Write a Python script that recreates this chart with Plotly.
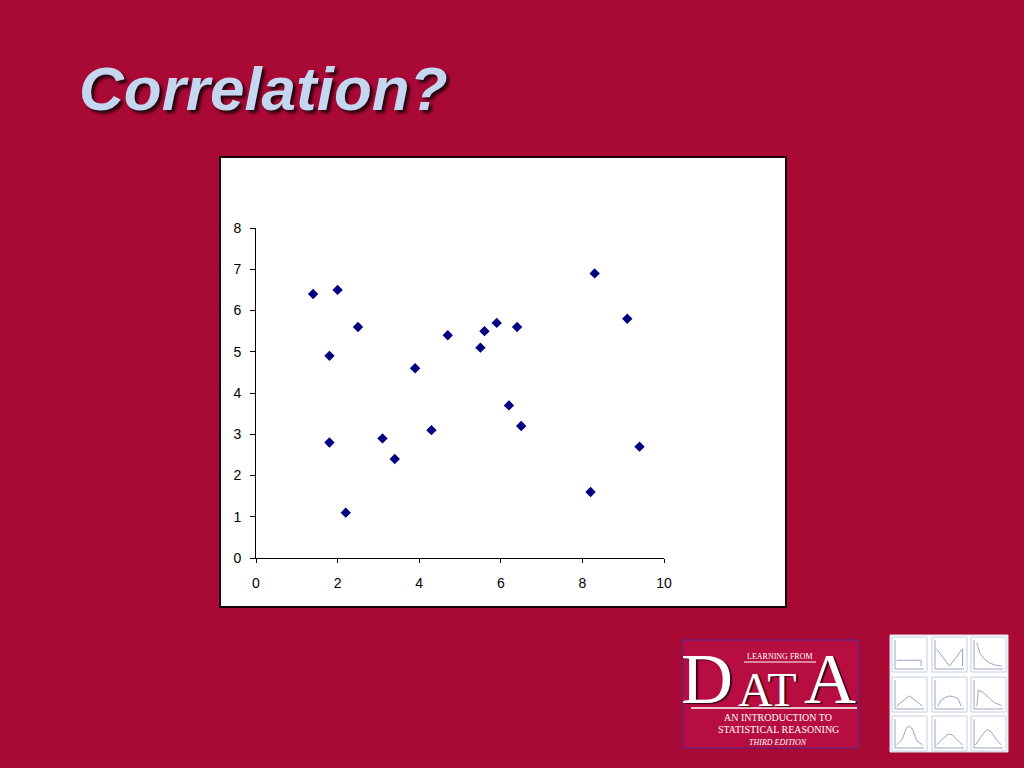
import plotly.graph_objects as go

# ---- data ----
x_vals = [1.4, 2.0, 1.8, 1.8, 2.2, 2.5, 3.1, 3.4, 3.9, 4.3, 4.7,
          5.5, 5.6, 5.9, 6.4, 6.2, 6.5, 8.2, 8.3, 9.1, 9.4]
y_vals = [6.4, 6.5, 4.9, 2.8, 1.1, 5.6, 2.9, 2.4, 4.6, 3.1, 5.4,
          5.1, 5.5, 5.7, 5.6, 3.7, 3.2, 1.6, 6.9, 5.8, 2.7]
x_ticks = [0, 2, 4, 6, 8, 10]
y_ticks = [0, 1, 2, 3, 4, 5, 6, 7, 8]
title_text = "Correlation?"

W, H = 1024, 768
BG = "#A90935"


def px(x):
    return x / W


def py(y):
    return (H - y) / H


fig = go.Figure()
fig.add_trace(go.Scatter(
    x=x_vals, y=y_vals, mode="markers",
    marker=dict(symbol="diamond", size=8, color="#000080",
                line=dict(width=0)),
    hoverinfo="x+y", showlegend=False))

shapes = []
annotations = []

# white chart box
shapes.append(dict(type="rect", xref="paper", yref="paper",
                   x0=px(220), x1=px(786), y0=py(607), y1=py(157),
                   fillcolor="white", line=dict(color="#1a0008", width=2),
                   layer="below"))

# title with shadow
annotations.append(dict(text="<b><i>%s</i></b>" % title_text,
                        xref="paper", yref="paper",
                        x=px(77), y=py(89),
                        xanchor="left", yanchor="middle", showarrow=False,
                        font=dict(family="Liberation Sans, Arial", size=62,
                                  color="#C4D6F0",
                                  shadow="3px 3px 3px #2a0410")))

# ---- "Learning from Data" logo ----
shapes.append(dict(type="rect", xref="paper", yref="paper",
                   x0=px(683), x1=px(859), y0=py(748), y1=py(640),
                   fillcolor="#B80D40", line=dict(color="#4a2a90", width=1)))
shapes.append(dict(type="line", xref="paper", yref="paper",
                   x0=px(691), x1=px(857), y0=py(708), y1=py(708),
                   line=dict(color="white", width=1.5)))
shapes.append(dict(type="line", xref="paper", yref="paper",
                   x0=px(744), x1=px(816), y0=py(662), y1=py(662),
                   line=dict(color="white", width=1)))
serif = "Liberation Serif, Times New Roman, serif"
logo_texts = [
    ("LEARNING FROM", 780, 656, 8, False),
    ("AN INTRODUCTION TO", 778, 717, 10, False),
    ("STATISTICAL REASONING", 778, 729, 10, False),
    ("THIRD EDITION", 778, 742, 8, True),
]
for t, xx, yy, sz, it in logo_texts:
    annotations.append(dict(text=("<i>%s</i>" % t) if it else t,
                            xref="paper", yref="paper", x=px(xx), y=py(yy),
                            xanchor="center", yanchor="middle", showarrow=False,
                            font=dict(family=serif, size=sz, color="white")))
big_letters = [("D", 707, 721, 72), ("AT", 767, 718, 48), ("A", 830, 721, 72)]
for t, xx, yy, sz in big_letters:
    annotations.append(dict(text=t, xref="paper", yref="paper",
                            x=px(xx), y=py(yy),
                            xanchor="center", yanchor="bottom", showarrow=False,
                            font=dict(family=serif, size=sz, color="white",
                                      shadow="2px 1px 1px #3a0818")))

# ---- distribution-grid logo ----
shapes.append(dict(type="rect", xref="paper", yref="paper",
                   x0=px(890), x1=px(1008), y0=py(752), y1=py(635),
                   fillcolor="white", line=dict(color="#dde3ee", width=1)))
cols = [(892, 927), (932, 967), (971, 1006)]
rows = [(637, 672), (677, 712), (716, 751)]
curves = [
    [(0.05, 0.7), (0.9, 0.7), (0.9, 0.9)],
    [(0.05, 0.3), (0.5, 0.9), (0.95, 0.3), (0.95, 0.9)],
    [(0.1, 0.1), (0.2, 0.45), (0.35, 0.65), (0.55, 0.8), (0.75, 0.87), (0.95, 0.9)],
    [(0.05, 0.9), (0.5, 0.55), (0.95, 0.9)],
    [(0.1, 0.9), (0.2, 0.7), (0.35, 0.6), (0.5, 0.55), (0.65, 0.58), (0.8, 0.65), (0.9, 0.9)],
    [(0.1, 0.9), (0.15, 0.35), (0.3, 0.42), (0.5, 0.6), (0.7, 0.78), (0.95, 0.88)],
    [(0.05, 0.9), (0.25, 0.7), (0.4, 0.3), (0.5, 0.25), (0.6, 0.35), (0.75, 0.75), (0.95, 0.9)],
    [(0.05, 0.9), (0.25, 0.7), (0.45, 0.52), (0.6, 0.55), (0.8, 0.75), (0.95, 0.9)],
    [(0.05, 0.9), (0.25, 0.6), (0.45, 0.35), (0.6, 0.45), (0.8, 0.75), (0.95, 0.9)],
]
k = 0
for (r0, r1) in rows:
    for (c0, c1) in cols:
        shapes.append(dict(type="rect", xref="paper", yref="paper",
                           x0=px(c0), x1=px(c1), y0=py(r1), y1=py(r0),
                           line=dict(color="#c6cede", width=1)))
        ax = "M %f,%f L %f,%f L %f,%f" % (px(c0 + 3), py(r0 + 3), px(c0 + 3), py(r1 - 3),
                                           px(c1 - 3), py(r1 - 3))
        shapes.append(dict(type="path", xref="paper", yref="paper", path=ax,
                           line=dict(color="#9aa6c4", width=1)))
        pts = curves[k]
        path = " ".join(("M" if i == 0 else "L") + " %f,%f" % (
            px(c0 + 3 + u * (c1 - c0 - 6)), py(r0 + 3 + v * (r1 - r0 - 6)))
            for i, (u, v) in enumerate(pts))
        shapes.append(dict(type="path", xref="paper", yref="paper", path=path,
                           line=dict(color="#9aa6c4", width=1)))
        k += 1

tickfont = dict(family="Liberation Sans, Arial", size=14, color="black")
fig.update_layout(
    template="none",
    width=W, height=H,
    margin=dict(l=0, r=0, t=0, b=0, pad=0, autoexpand=False),
    paper_bgcolor=BG, plot_bgcolor="rgba(0,0,0,0)",
    shapes=shapes, annotations=annotations,
    xaxis=dict(domain=[px(256), px(664)], range=[0, 10], tickvals=x_ticks,
               showgrid=False, zeroline=False, showline=True, linecolor="black",
               linewidth=1, ticks="outside", ticklen=4, tickcolor="black",
               ticklabelstandoff=8, automargin=False,
               tickfont=tickfont, fixedrange=True),
    yaxis=dict(domain=[py(558), py(228)], range=[0, 8], tickvals=y_ticks,
               showgrid=False, zeroline=False, showline=True, linecolor="black",
               linewidth=1, ticks="outside", ticklen=5, tickcolor="black",
               ticklabelstandoff=6, automargin=False,
               tickfont=tickfont, fixedrange=True),
)

fig.write_html("out.html", config={"displayModeBar": False},
               post_script="document.body.style.margin='0px';"
                           "document.documentElement.style.overflow='hidden';")
